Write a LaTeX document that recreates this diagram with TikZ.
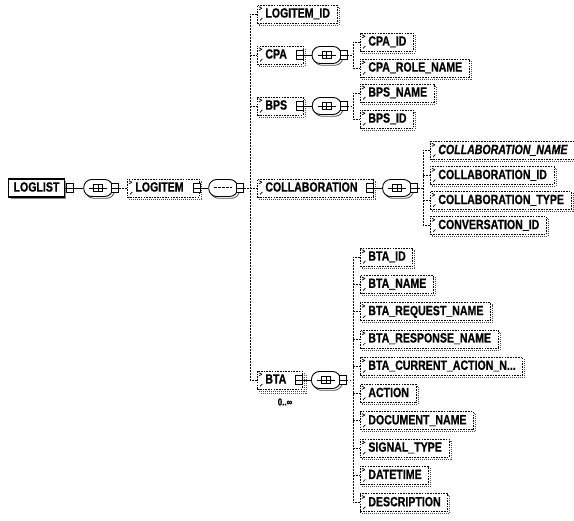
\documentclass[tikz,border=0pt]{standalone}
\usepackage{fontspec}
\newfontfamily\xsdfont{Liberation Sans}[FakeStretch=0.79, FakeBold=0.6]
\usetikzlibrary{calc,shadows}

\tikzset{
  opt/.style={line width=0.7pt, dash pattern=on 1.6pt off 1.1pt},
  bus/.style={line width=0.7pt, dash pattern=on 1.6pt off 1.4pt},
  link/.style={line width=0.8pt},
  xsdelem/.style 2 args={font=\xsdfont\bfseries\fontsize{13.4}{14}\selectfont,
    text height=9.6pt, text depth=2.4pt, anchor=west, fill=white,
    inner xsep=0pt, inner ysep=0pt, minimum height=18pt,
    execute at begin node=\hspace*{#1}, execute at end node=\hspace*{#2}},
  elemicons/.style={path picture={
    \draw[solid, line width=0.7pt]
      ([shift={(1.8pt,1.8pt)}]path picture bounding box.south west) -- ++(3.2pt,3.2pt);
    \fill ([shift={(0.8pt,0.8pt)}]path picture bounding box.south west) rectangle ++(2.2pt,2.2pt);
    \draw[solid, line width=0.7pt]
      ([shift={(1.6pt,-1.8pt)}]path picture bounding box.north west) -- ++(3pt,-1.5pt)
      ([shift={(1.6pt,-4.8pt)}]path picture bounding box.north west) -- ++(3pt,1.5pt);
  }},
  elemshadow/.style={general shadow={shadow xshift=2pt, shadow yshift=-2pt,
    draw=black!70, line width=0.7pt, dash pattern=on 1pt off 1pt, fill=white}},
  leaf/.style={xsdelem={8pt}{7pt}, draw, opt, elemicons, elemshadow},
  parent/.style={xsdelem={8pt}{16pt}, draw, opt, elemicons, elemshadow},
  multi/.style={xsdelem={8pt}{16pt}, draw, opt, elemicons,
    double copy shadow={shadow xshift=2pt, shadow yshift=-2pt,
      draw=black!70, line width=0.7pt, dash pattern=on 1pt off 1pt, fill=white}},
  rootelem/.style={xsdelem={5pt}{5pt}, draw, solid, line width=1.1pt,
    general shadow={shadow xshift=2pt, shadow yshift=-2pt, fill=black!45}},
  mbox/.style={draw, solid, line width=0.7pt, fill=white, minimum width=7pt,
    minimum height=9pt, inner sep=0pt,
    path picture={\draw[line width=0.7pt] (path picture bounding box.west) -- (path picture bounding box.east);}},
  comp/.style={draw, solid, line width=0.9pt, fill=white, rounded corners=8pt,
    minimum width=29pt, minimum height=17pt, inner sep=0pt, anchor=west,
    general shadow={shadow xshift=1.8pt, shadow yshift=-1.8pt, draw=black!70,
      fill=white, line width=0.8pt}},
  allsym/.style={path picture={
    \coordinate (c) at (path picture bounding box.center);
    \draw[sharp corners, line width=0.8pt] ([xshift=-9pt]c) -- ([xshift=9pt]c);
    \draw[sharp corners, line width=0.8pt, fill=white] ([shift={(-4.5pt,-3.5pt)}]c) rectangle ([shift={(4.5pt,3.5pt)}]c);
    \draw[sharp corners, line width=0.8pt] ([yshift=-3.5pt]c) -- ([yshift=3.5pt]c)
      ([xshift=-4.5pt]c) -- ([xshift=4.5pt]c);
  }},
  seqsym/.style={path picture={
    \coordinate (c) at (path picture bounding box.center);
    \draw[sharp corners, line width=1pt, dash pattern=on 3pt off 1pt] ([xshift=-9pt]c) -- ([xshift=9pt]c);
  }},
  occ/.style={font=\xsdfont\bfseries\fontsize{10}{10}\selectfont, inner sep=0pt}
}

\begin{document}
\begin{tikzpicture}[x=1pt, y=-1pt]
\useasboundingbox (0,0) rectangle (574,521);

% root element and its sequence
\node[rootelem] (loglist) at (8,188) {LOGLIST};
\node[mbox] (loglistm) at ($(loglist.east)+(4.5,0)$) {};
\node[comp, allsym] (loglistc) at ($(loglistm.east)+(10,0)$) {};
\node[mbox] (loglistm2) at ($(loglistc.east)+(2,0)$) {};
\draw[link] (loglist.east) -- (loglistm.west);
\draw[link] (loglistm.east) -- (loglistc.west);

% LOGITEM
\node[parent] (logitem) at (127,188) {LOGITEM};
\draw[bus] (loglistm2.east) -- (logitem.west);
\node[mbox] (logitemm) at ($(logitem.east)+(-3.5,0)$) {};
\node[comp, seqsym] (logitemc) at ($(logitemm.east)+(8,0)$) {};
\node[mbox] (logitemm2) at ($(logitemc.east)+(2,0)$) {};
\draw[link] (logitemm.east) -- (logitemc.west);
\coordinate (logitembus) at (250,0);

% children of LOGITEM
\node[leaf] (logitemid) at (257,14) {LOGITEM\_ID};
\node[parent] (cpa) at (257,55) {CPA};
\node[parent] (bps) at (257,106) {BPS};
\node[parent] (collab) at (257,188) {COLLABORATION};
\node[multi] (bta) at (257,380) {BTA};
\node[occ] (btaocc) at (285,402) {0..∞};

\draw[bus] (logitemm2.east) -- (logitemm2.east -| logitembus);
\draw[bus] (logitemid.west) -- (logitemid.west -| logitembus)
  -- (bta.west -| logitembus) -- (bta.west);
\foreach \n in {cpa,bps,collab}
  \draw[bus] (\n.west -| logitembus) -- (\n.west);

% CPA
\node[mbox] (cpam) at ($(cpa.east)+(-3.5,0)$) {};
\node[comp, allsym] (cpac) at ($(cpam.east)+(8,0)$) {};
\node[mbox] (cpam2) at ($(cpac.east)+(2,0)$) {};
\draw[link] (cpam.east) -- (cpac.west);
\coordinate (cpabus) at (353,0);
\node[leaf] (cpaid) at (360,42) {CPA\_ID};
\node[leaf] (cparole) at (360,68) {CPA\_ROLE\_NAME};
\draw[bus] (cpam2.east) -- (cpam2.east -| cpabus);
\draw[bus] (cpaid.west) -- (cpaid.west -| cpabus) -- (cparole.west -| cpabus) -- (cparole.west);

% BPS
\node[mbox] (bpsm) at ($(bps.east)+(-3.5,0)$) {};
\node[comp, allsym] (bpsc) at ($(bpsm.east)+(8,0)$) {};
\node[mbox] (bpsm2) at ($(bpsc.east)+(2,0)$) {};
\draw[link] (bpsm.east) -- (bpsc.west);
\coordinate (bpsbus) at (353,0);
\node[leaf] (bpsname) at (360,93) {BPS\_NAME};
\node[leaf] (bpsid) at (360,119) {BPS\_ID};
\draw[bus] (bpsm2.east) -- (bpsm2.east -| bpsbus);
\draw[bus] (bpsname.west) -- (bpsname.west -| bpsbus) -- (bpsid.west -| bpsbus) -- (bpsid.west);

% COLLABORATION
\node[mbox] (collabm) at ($(collab.east)+(-3.5,0)$) {};
\node[comp, allsym] (collabc) at ($(collabm.east)+(8,0)$) {};
\node[mbox] (collabm2) at ($(collabc.east)+(2,0)$) {};
\draw[link] (collabm.east) -- (collabc.west);
\coordinate (collabbus) at (423,0);
\node[leaf] (collabname) at (430,150.5) {\itshape COLLABORATION\_NAME};
\node[leaf] (collabid) at (430,175.5) {COLLABORATION\_ID};
\node[leaf] (collabtype) at (430,200.5) {COLLABORATION\_TYPE};
\node[leaf] (convid) at (430,225.5) {CONVERSATION\_ID};
\draw[bus] (collabm2.east) -- (collabm2.east -| collabbus);
\draw[bus] (collabname.west) -- (collabname.west -| collabbus) -- (convid.west -| collabbus) -- (convid.west);
\foreach \n in {collabid,collabtype}
  \draw[bus] (\n.west -| collabbus) -- (\n.west);

% BTA
\node[mbox] (btam) at ($(bta.east)+(-3.5,0)$) {};
\node[comp, allsym] (btac) at ($(btam.east)+(8,0)$) {};
\node[mbox] (btam2) at ($(btac.east)+(2,0)$) {};
\draw[link] (btam.east) -- (btac.west);
\coordinate (btabus) at (353,0);
\node[leaf] (btaid) at (360,257) {BTA\_ID};
\node[leaf] (btaname) at (360,284.3) {BTA\_NAME};
\node[leaf] (btareq) at (360,311.6) {BTA\_REQUEST\_NAME};
\node[leaf] (btaresp) at (360,338.9) {BTA\_RESPONSE\_NAME};
\node[leaf] (btacur) at (360,366.2) {BTA\_CURRENT\_ACTION\_N...};
\node[leaf] (action) at (360,393.5) {ACTION};
\node[leaf] (docname) at (360,420.8) {DOCUMENT\_NAME};
\node[leaf] (sigtype) at (360,448.1) {SIGNAL\_TYPE};
\node[leaf] (datetime) at (360,475.4) {DATETIME};
\node[leaf] (descr) at (360,502.7) {DESCRIPTION};
\draw[bus] (btam2.east) -- (btam2.east -| btabus);
\draw[bus] (btaid.west) -- (btaid.west -| btabus) -- (descr.west -| btabus) -- (descr.west);
\foreach \n in {btaname,btareq,btaresp,btacur,action,docname,sigtype,datetime}
  \draw[bus] (\n.west -| btabus) -- (\n.west);
\end{tikzpicture}
\end{document}
